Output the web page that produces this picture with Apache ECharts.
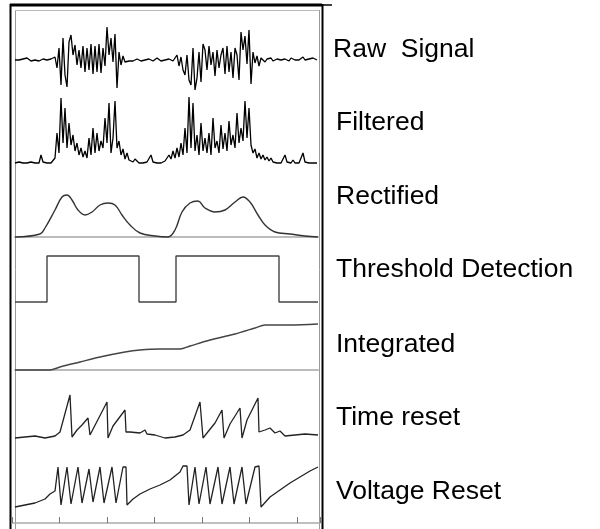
<!DOCTYPE html>
<html><head><meta charset="utf-8">
<script src="https://cdn.jsdelivr.net/npm/echarts@6/dist/echarts.min.js"></script>
<style>html,body{margin:0;padding:0;background:#fff}#c{width:600px;height:529px}</style>
</head><body><div id="c"></div>
<script>
// Panel labels
const labels = ["Raw  Signal","Filtered","Rectified","Threshold Detection","Integrated","Time reset","Voltage Reset"];
// Raw signal: amplitude samples, one every 2 ms
const rawSignal = [0,1,0,-1,1,0,2,0,-1,1,0,1,-1,0,1,3,0,-2,1,0,
 3,-8,12,-25,22,-15,-27,18,25,5,15,-5,10,-8,14,-12,12,-10,16,-14,14,-12,16,-13,12,-6,33,5,22,-2,26,-28,8,-5,4,-2,
 -2,-1,0,-1,0,1,0,-1,1,0,0,1,0,-1,1,2,0,-1,1,0,2,1,0,-1,1,
 5,-6,3,-10,-15,5,-20,-25,12,-30,-18,8,-22,16,10,-10,14,-5,8,-16,10,-8,5,12,-14,14,-12,8,-18,12,5,-20,28,10,24,-4,30,-24,8,-3,4,-6,2,3,-2,
 1,0,2,-1,0,1,3,0,-2,1,0,-1,2,1,0,-1,0,2,3,0,-1,1,0,2,1,0];
// Filtered signal samples, one every 2 ms
const filtered = [0,0,1,0,0,1,0,0,1,0,0,1,0,8,1,0,0,1,0,2,
 5,30,10,65,20,55,15,40,18,28,12,20,8,15,6,12,5,25,8,35,10,30,12,22,15,45,20,60,10,25,62,15,22,8,14,4,10,3,
 3,1,4,2,0,1,0,0,1,0,8,1,0,0,0,0,1,2,
 3,8,4,12,5,15,6,20,8,35,10,66,15,60,12,28,8,40,12,25,10,30,8,45,15,22,10,38,14,30,12,42,18,28,15,50,20,35,22,62,25,55,18,10,14,5,10,4,8,
 3,6,2,5,1,3,0,1,0,2,8,1,0,0,3,0,1,0,0,10,1,0,0,0,0,0,0];
// Rectified envelope [ms, amplitude]
const rectified = [[0,0],[25,3],[30,9],[40,27],[47,40],[52,42],[57,37],[63,27],[70,22],[77,25],[85,32],[93,34],[100,32],[107,22],[115,12],[125,4],[140,1],[153,0],[160,7],[167,25],[175,34],[183,36],[190,29],[200,25],[210,27],[220,35],[228,40],[235,35],[243,22],[250,12],[260,5],[275,3],[290,1],[303,0]];
// Threshold detection [ms, level]
const threshold = [[0,0],[32,0],[32,46],[124,46],[124,0],[161,0],[161,46],[264,46],[264,0],[303,0]];
// Integrated [ms, value]
const integrated = [[0,0],[35,0],[45,3],[65,8],[85,13],[110,18],[125,20],[145,21],[165,21],[175,24],[195,30],[220,36],[240,42],[250,45],[275,45],[303,46]];
// Time reset [ms, value]
const timeReset = [[0,0],[10,1],[20,2],[30,0],[40,2],[45,6],[55,43],[57,1],[62,8],[67,13],[73,20],[75,3],[92,36],[93,0],[98,12],[110,28],[111,6],[115,6],[125,5],[130,8],[132,4],[140,3],[150,0],[160,1],[168,3],[175,8],[185,36],[188,0],[200,15],[207,28],[209,0],[215,14],[225,30],[227,0],[232,18],[243,40],[244,6],[250,8],[255,10],[260,5],[265,7],[270,2],[280,3],[290,4],[303,3]];
// Voltage reset [ms, value]
const voltageReset = [[0,0],[10,2],[20,4],[30,8],[35,13],[40,16],[43,40],[46,2],[52,40],[56,3],[63,40],[67,4],[74,38],[78,5],[85,40],[89,4],[97,40],[101,4],[108,40],[111,40],[112,2],[118,8],[125,13],[135,18],[145,22],[155,27],[165,35],[168,41],[172,41],[174,2],[180,40],[184,3],[191,40],[195,3],[203,40],[207,3],[215,40],[219,3],[227,40],[231,3],[240,40],[244,41],[246,0],[255,10],[265,17],[275,24],[285,30],[295,36],[303,40]];

const chart = echarts.init(document.getElementById('c'), null, {renderer:'canvas'});
const panels = [
  {top:20, height:80, min:-40, max:40, axis:false},
  {top:93, height:75, min:-5, max:70, axis:false},
  {top:192, height:49, min:-4, max:45, axis:true},
  {top:252, height:55, min:-5, max:50, axis:false},
  {top:320, height:52, min:-2, max:50, axis:true},
  {top:388, height:55, min:-5, max:50, axis:false},
  {top:462, height:50, min:-5, max:45, axis:false}
];
const grids = panels.map(p => ({left:15, width:303, top:p.top, height:p.height}));
grids.push({left:12, width:308, top:480, height:43});
const xAxes = panels.map((p,i) => ({type:'value', gridIndex:i, min:0, max:303, show:p.axis,
  axisLine:{show:p.axis, lineStyle:{color:'#bbb', width:2}}, axisTick:{show:false}, axisLabel:{show:false}, splitLine:{show:false}}));
xAxes.push({type:'value', gridIndex:7, min:0, max:308/47.5, interval:1,
  axisLine:{show:true, lineStyle:{color:'#aaa', width:1.5}}, axisTick:{show:true, inside:true, length:6, lineStyle:{color:'#777'}},
  axisLabel:{show:false}, splitLine:{show:false}});
const yAxes = panels.map((p,i) => ({type:'value', gridIndex:i, min:p.min, max:p.max, show:false}));
yAxes.push({type:'value', gridIndex:7, min:0, max:1, show:false});
const series = [
  {data: rawSignal.map((v,i)=>[i*2,v]), lw:1.3, c:'#000'},
  {data: filtered.map((v,i)=>[i*2,v]), lw:1.3, c:'#000'},
  {data: rectified, lw:1.4, c:'#333', smooth:0.4},
  {data: threshold, lw:1.4, c:'#444'},
  {data: integrated, lw:1.4, c:'#444', smooth:0.3},
  {data: timeReset, lw:1.3, c:'#222'},
  {data: voltageReset, lw:1.3, c:'#222'}
].map((s,i)=>({type:'line', xAxisIndex:i, yAxisIndex:i, data:s.data, showSymbol:false, symbol:'none',
  smooth:s.smooth||false, lineStyle:{width:s.lw, color:s.c}, animation:false, clip:false}));

const labelY = [50,123,197,270,345,418,492];
const graphic = [
  {type:'line', shape:{x1:10.5,y1:4,x2:10.5,y2:529}, style:{stroke:'#000', lineWidth:2}},
  {type:'line', shape:{x1:10,y1:5,x2:322,y2:5}, style:{stroke:'#000', lineWidth:3}},
  {type:'line', shape:{x1:322,y1:5,x2:332,y2:5}, style:{stroke:'#000', lineWidth:1.5}},
  {type:'line', shape:{x1:322.5,y1:4,x2:322.5,y2:529}, style:{stroke:'#000', lineWidth:2}},
  {type:'line', shape:{x1:15.5,y1:10,x2:15.5,y2:529}, style:{stroke:'#999', lineWidth:1}},
  {type:'line', shape:{x1:15,y1:10.5,x2:319,y2:10.5}, style:{stroke:'#bbb', lineWidth:1}},
  {type:'line', shape:{x1:319.5,y1:10,x2:319.5,y2:529}, style:{stroke:'#999', lineWidth:1}}
].concat(labels.map((t,i)=>({type:'text', x: i===0?333:336, y: labelY[i],
  style:{text:t, fill:'#000', font:'26.5px "Liberation Sans", Arial, sans-serif', textVerticalAlign:'middle'}})));

chart.setOption({animation:false, grid:grids, xAxis:xAxes, yAxis:yAxes, series:series, graphic:graphic});
</script></body></html>
